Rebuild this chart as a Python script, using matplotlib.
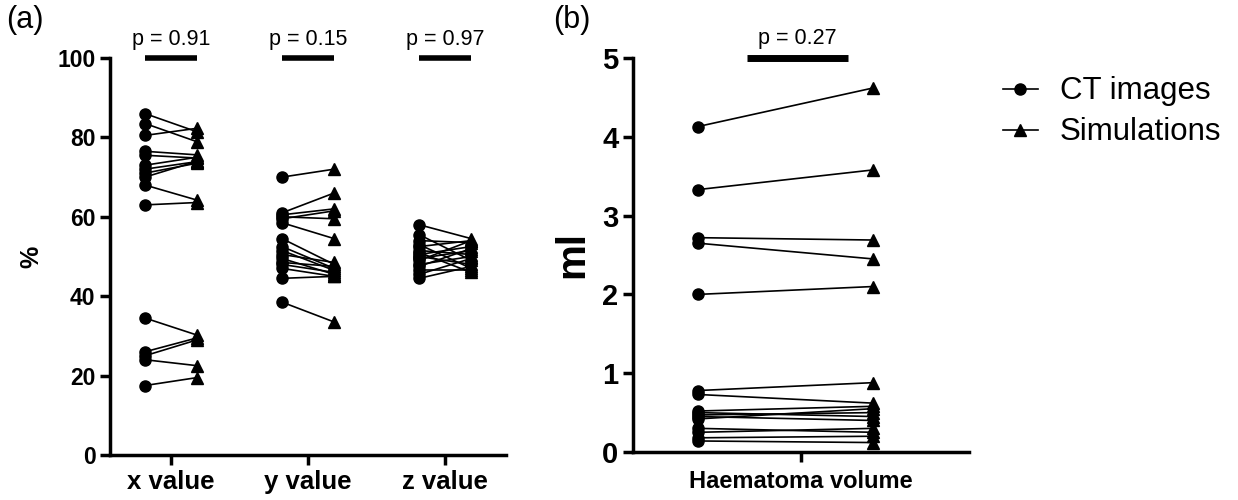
import matplotlib
matplotlib.use("Agg")
import matplotlib.pyplot as plt
from matplotlib.lines import Line2D

plt.rcParams['font.family'] = ['Liberation Sans', 'DejaVu Sans']

# datos panel (a): valores en % (CT vs simulacion), 16 casos
categorias = ["x value", "y value", "z value"]
x_ct = [86.0, 83.5, 80.5, 76.5, 75.5, 73.0, 72.0, 71.0, 70.0, 68.0, 63.0, 34.5, 26.0, 25.0, 24.0, 17.5]
x_sim = [81.4, 78.9, 82.3, 75.6, 74.8, 75.0, 73.9, 73.5, 74.0, 64.2, 63.6, 30.2, 29.5, 29.0, 22.5, 19.5]
y_ct = [70.0, 61.0, 60.5, 60.0, 59.5, 58.5, 54.5, 52.5, 51.5, 50.5, 49.5, 48.5, 48.0, 47.0, 44.5, 38.5]
y_sim = [72.0, 66.0, 62.0, 59.5, 61.5, 54.5, 48.0, 47.0, 46.5, 48.5, 45.5, 47.5, 46.0, 45.0, 45.0, 33.5]
z_ct = [58.0, 55.5, 54.0, 53.0, 52.5, 51.5, 51.0, 50.5, 50.0, 49.5, 49.0, 48.0, 47.5, 46.5, 45.5, 44.5]
z_sim = [54.5, 49.0, 53.5, 47.0, 54.0, 50.5, 46.0, 52.5, 48.0, 51.5, 54.0, 50.0, 52.0, 46.5, 49.5, 47.5]
p_a = ["p = 0.91", "p = 0.15", "p = 0.97"]

# datos panel (b): volumen del hematoma en ml
b_ct = [4.13, 3.33, 2.72, 2.65, 2.00, 0.78, 0.73, 0.52, 0.50, 0.47, 0.45, 0.42, 0.30, 0.25, 0.18, 0.14]
b_sim = [4.62, 3.58, 2.69, 2.45, 2.10, 0.88, 0.62, 0.58, 0.45, 0.50, 0.40, 0.55, 0.25, 0.30, 0.20, 0.12]
p_b = "p = 0.27"

fig = plt.figure(figsize=(12.38, 5), dpi=100)
ax1 = fig.add_axes([0.0889, 0.09, 0.3200, 0.794])
ax2 = fig.add_axes([0.5113, 0.096, 0.2714, 0.788])

ms = 8
lw_eje = 2.5

def estilo(ax):
    for s in ["top", "right"]:
        ax.spines[s].set_visible(False)
    for s in ["left", "bottom"]:
        ax.spines[s].set_linewidth(lw_eje)
    ax.tick_params(width=lw_eje, length=7, direction="out")

# panel (a)
off = 0.19
series = [(x_ct, x_sim), (y_ct, y_sim), (z_ct, z_sim)]
for i, (ct, sim) in enumerate(series):
    for a, b in zip(ct, sim):
        ax1.plot([i - off, i + off], [a, b], color="black", lw=1.2, zorder=2)
    ax1.plot([i - off] * len(ct), ct, "o", color="black", ms=ms, zorder=3, clip_on=False)
    ax1.plot([i + off] * len(sim), sim, "^", color="black", ms=ms, zorder=3, clip_on=False)
    ax1.plot([i - off, i + off], [100, 100], color="black", lw=4, solid_capstyle="butt", clip_on=False)
    ax1.text(i, 102.0, p_a[i], ha="center", va="bottom", fontsize=15.5)

ax1.set_xlim(-0.445, 2.445)
ax1.set_ylim(0, 100)
ax1.set_yticks([0, 20, 40, 60, 80, 100])
ax1.set_xticks([0, 1, 2])
ax1.set_xticklabels(categorias, fontsize=18.5, fontweight="bold")
for t in ax1.get_yticklabels():
    t.set_fontsize(16.5)
    t.set_fontweight("bold")
ax1.set_ylabel("%", fontsize=18, fontweight="bold", labelpad=10)
estilo(ax1)

# panel (b)
xc, xs = -0.613, 0.43
for a, b in zip(b_ct, b_sim):
    ax2.plot([xc, xs], [a, b], color="black", lw=1.2, zorder=2)
ax2.plot([xc] * len(b_ct), b_ct, "o", color="black", ms=ms, zorder=3, clip_on=False)
ax2.plot([xs] * len(b_sim), b_sim, "^", color="black", ms=ms, zorder=3, clip_on=False)
ax2.plot([-0.32, 0.28], [5, 5], color="black", lw=5, solid_capstyle="butt", clip_on=False)
ax2.text(-0.02, 5.12, p_b, ha="center", va="bottom", fontsize=15.5)

ax2.set_xlim(-1, 1)
ax2.set_ylim(0, 5)
ax2.set_yticks([0, 1, 2, 3, 4, 5])
ax2.set_xticks([0])
ax2.set_xticklabels(["Haematoma volume"], fontsize=17, fontweight="bold")
ax2.tick_params(axis="x", pad=6)
for t in ax2.get_yticklabels():
    t.set_fontsize(21)
    t.set_fontweight("bold")
ax2.set_ylabel("ml", fontsize=29, fontweight="bold", labelpad=8)
estilo(ax2)

# leyenda
handles = [Line2D([0], [0], color="black", marker="o", ms=ms, lw=1.2),
           Line2D([0], [0], color="black", marker="^", ms=ms, lw=1.2)]
fig.legend(handles, ["CT images", "Simulations"], loc="upper left",
           bbox_to_anchor=(0.81, 0.847), frameon=False, fontsize=22.5,
           handlelength=1.12, handletextpad=0.7, labelspacing=0.35,
           borderpad=0, borderaxespad=0)

fig.text(0.005, 0.96, "(a)", fontsize=22, va="center")
fig.text(0.447, 0.96, "(b)", fontsize=22, va="center")

fig.savefig("out.png", dpi=100)
